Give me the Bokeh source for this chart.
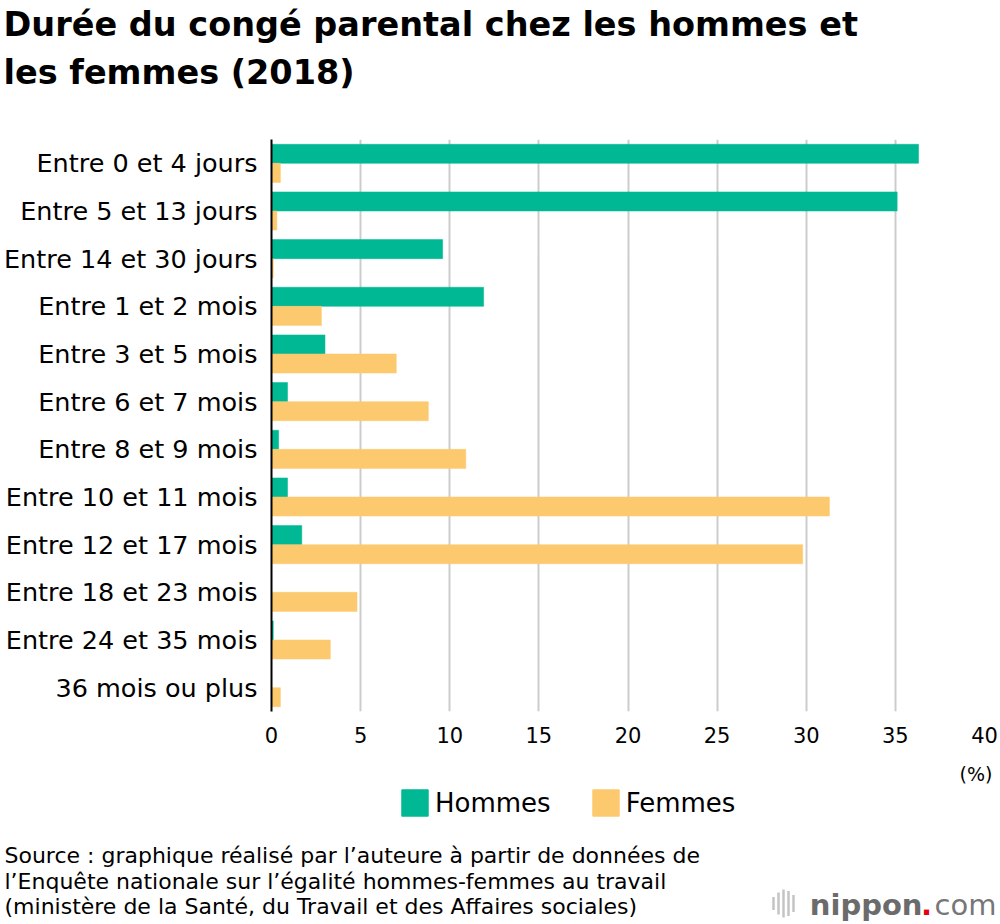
from bokeh.plotting import figure
from bokeh.layouts import column, row
from bokeh.models import (ColumnDataSource, FactorRange, Range1d, Legend,
                          LegendItem, FixedTicker)
from bokeh.core.properties import value
from bokeh.transform import dodge
from bokeh.embed import file_html
from bokeh.resources import INLINE

# ---------------- data ----------------
categories = ["Entre 0 et 4 jours", "Entre 5 et 13 jours", "Entre 14 et 30 jours",
              "Entre 1 et 2 mois", "Entre 3 et 5 mois", "Entre 6 et 7 mois",
              "Entre 8 et 9 mois", "Entre 10 et 11 mois", "Entre 12 et 17 mois",
              "Entre 18 et 23 mois", "Entre 24 et 35 mois", "36 mois ou plus"]
hommes = [36.3, 35.1, 9.6, 11.9, 3.0, 0.9, 0.4, 0.9, 1.7, 0.0, 0.1, 0.0]
femmes = [0.5, 0.3, 0.1, 2.8, 7.0, 8.8, 10.9, 31.3, 29.8, 4.8, 3.3, 0.5]
x_ticks = [0, 5, 10, 15, 20, 25, 30, 35, 40]
series_names = ["Hommes", "Femmes"]
unit_label = "(%)"

title_lines = ["Durée du congé parental chez les hommes et", "les femmes (2018)"]
source_lines = ["Source : graphique réalisé par l’auteure à partir de données de",
                "l’Enquête nationale sur l’égalité hommes-femmes au travail",
                "(ministère de la Santé, du Travail et des Affaires sociales)"]

GREEN = "#00b894"
YELLOW = "#fdc96f"
FONT = "DejaVu Sans"
W = 998
H_HEAD, H_MAIN, H_FOOT = 139, 612, 171


def blank(height):
    f = figure(width=W, height=height, x_range=Range1d(0, W),
               y_range=Range1d(height, 0), output_backend="svg",
               toolbar_location=None, min_border=0,
               x_axis_location=None, y_axis_location=None)
    f.grid.visible = False
    f.outline_line_color = None
    return f


def txt(f, x, y, text, size, style="normal", color="black", align="left"):
    f.text(x=[x], y=[y], text=[text], text_font=value(FONT),
           text_font_size=value(size), text_font_style=style,
           text_color=color, text_align=align, text_baseline="alphabetic")


# ---------------- header (title) ----------------
head = blank(H_HEAD)
txt(head, 3, 24, title_lines[0], "33.5px", "bold")
txt(head, 3, 72, title_lines[1], "33.5px", "bold")

# ---------------- main chart ----------------
src = ColumnDataSource(dict(cat=categories, h=hommes, f=femmes))

p = figure(width=W, height=H_MAIN,
           y_range=FactorRange(factors=categories[::-1]),
           x_range=Range1d(0, 40),
           output_backend="svg", toolbar_location=None,
           min_border_left=270, min_border_right=W - 984,
           min_border_top=0, min_border_bottom=H_MAIN - 572)
p.outline_line_color = None

r_h = p.hbar(y=dodge("cat", 0.2, range=p.y_range), left=0, right="h", height=0.4,
             fill_color=GREEN, line_color=GREEN, line_width=0.5, source=src)
r_f = p.hbar(y=dodge("cat", -0.2, range=p.y_range), left=0, right="f", height=0.4,
             fill_color=YELLOW, line_color=YELLOW, line_width=0.5, source=src)

p.ygrid.grid_line_color = None
p.xgrid.grid_line_color = "#cccccc"
p.xgrid.grid_line_width = 2
p.xgrid.ticker = FixedTicker(ticks=x_ticks)

p.xaxis.ticker = FixedTicker(ticks=x_ticks)
p.xaxis.axis_line_color = None
p.xaxis.major_tick_line_color = None
p.xaxis.minor_tick_line_color = None
p.xaxis.major_tick_out = 0
p.xaxis.major_label_standoff = 15
p.xaxis.major_label_text_font = FONT
p.xaxis.major_label_text_font_size = "21px"
p.xaxis.major_label_text_color = "black"

p.yaxis.axis_line_color = "black"
p.yaxis.axis_line_width = 2
p.yaxis.major_tick_line_color = None
p.yaxis.minor_tick_line_color = None
p.yaxis.major_tick_out = 0
p.yaxis.major_label_standoff = 14
p.yaxis.major_label_text_font = FONT
p.yaxis.major_label_text_font_size = "25.5px"
p.yaxis.major_label_text_color = "black"

# ---------------- footer ----------------
foot = blank(H_FOOT)
FY = H_HEAD + H_MAIN  # page y of footer top

txt(foot, 992, 773 - FY, unit_label, "19px", align="right")

# legend swatches: zero-width bars carrying the two series styles
d_h = foot.hbar(y=[0], left=[0], right=[0], height=0, fill_color=GREEN, line_color=GREEN)
d_f = foot.hbar(y=[0], left=[0], right=[0], height=0, fill_color=YELLOW, line_color=YELLOW)
legend = Legend(items=[LegendItem(label=series_names[0], renderers=[d_h]),
                       LegendItem(label=series_names[1], renderers=[d_f])],
                location=(398, H_FOOT - (819 - FY)), orientation="horizontal",
                glyph_width=33, glyph_height=33, label_standoff=4, spacing=38,
                label_text_font=FONT, label_text_font_size="26px",
                label_text_color="black", label_height=33,
                padding=0, margin=0, border_line_color=None,
                background_fill_alpha=0)
foot.add_layout(legend)

for i, line in enumerate(source_lines):
    txt(foot, 4, 855 + 25.5 * i - FY, line, "22px")

# nippon.com logo
logo_base = 904 - FY
txt(foot, 922, logo_base, "nippon", "29px", "bold", color="#6b6b6b", align="right")
txt(foot, 926, logo_base, ".", "29px", "bold", color="#e60012", align="center")
txt(foot, 934, logo_base, "com", "29px", "normal", color="#777777")
bar_x = [773, 778, 783, 788, 793]
bar_h = [13, 22, 28, 25, 17]
cy = 903 - FY
foot.segment(x0=bar_x, x1=bar_x, y0=[cy - h / 2 for h in bar_h],
             y1=[cy + h / 2 for h in bar_h], line_color="#c4c4c4", line_width=2.5)

layout = column(row(head), row(p), row(foot), spacing=0)
open("out.html", "w").write(file_html(layout, INLINE))
